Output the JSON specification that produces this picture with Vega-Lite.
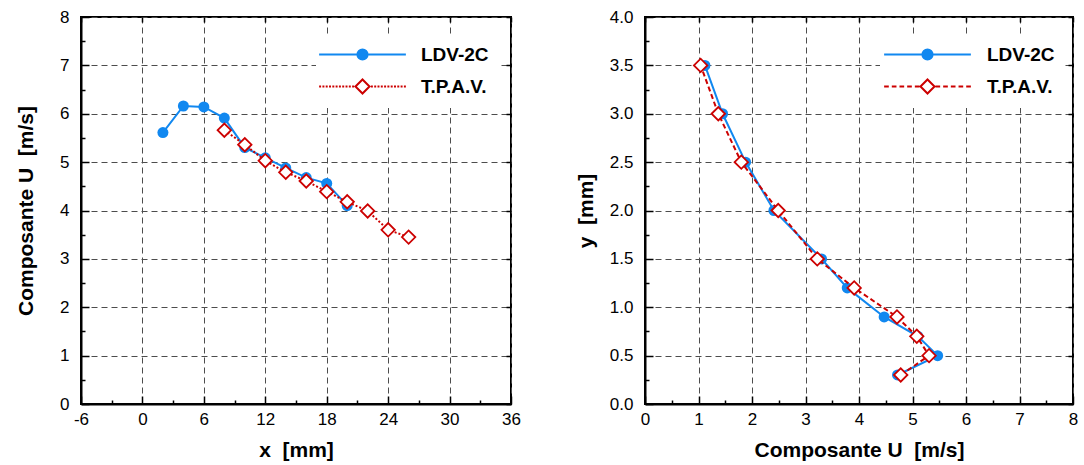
{
  "$schema": "https://vega.github.io/schema/vega-lite/v6.json",
  "background": "white",
  "padding": {"left": 14, "top": 7, "right": 3, "bottom": 3},
  "spacing": 52,
  "config": {
    "view": {"stroke": "black", "strokeWidth": 2},
    "axis": {
      "domainColor": "black", "domainWidth": 2,
      "tickColor": "black", "tickWidth": 1.5,
      "gridColor": "#4d4d4d", "gridDash": [6, 4], "gridWidth": 1,
      "labelFont": "Liberation Sans", "labelFontSize": 17, "labelColor": "black",
      "titleFont": "Liberation Sans", "titleFontSize": 21, "titleFontWeight": "bold", "titleColor": "black",
      "labelFlush": false, "labelOverlap": false
    },
    "axisX": {"labelPadding": 15, "titlePadding": 8},
    "axisY": {"labelPadding": 20},
    "legend": {"labelFont": "Liberation Sans"}
  },
  "datasets": {
    "left": [
      {"s": "LDV-2C", "x": 2, "u": 5.61},
      {"s": "LDV-2C", "x": 4, "u": 6.16},
      {"s": "LDV-2C", "x": 6, "u": 6.14},
      {"s": "LDV-2C", "x": 8, "u": 5.91},
      {"s": "LDV-2C", "x": 10, "u": 5.30},
      {"s": "LDV-2C", "x": 12, "u": 5.09},
      {"s": "LDV-2C", "x": 14, "u": 4.88},
      {"s": "LDV-2C", "x": 16, "u": 4.68},
      {"s": "LDV-2C", "x": 18, "u": 4.56},
      {"s": "LDV-2C", "x": 20, "u": 4.10},
      {"s": "T.P.A.V.", "x": 8, "u": 5.66},
      {"s": "T.P.A.V.", "x": 10, "u": 5.36},
      {"s": "T.P.A.V.", "x": 12, "u": 5.03},
      {"s": "T.P.A.V.", "x": 14, "u": 4.79},
      {"s": "T.P.A.V.", "x": 16, "u": 4.61},
      {"s": "T.P.A.V.", "x": 18, "u": 4.39},
      {"s": "T.P.A.V.", "x": 20, "u": 4.18},
      {"s": "T.P.A.V.", "x": 22, "u": 3.99},
      {"s": "T.P.A.V.", "x": 24, "u": 3.60},
      {"s": "T.P.A.V.", "x": 26, "u": 3.45}
    ],
    "right": [
      {"s": "LDV-2C", "u": 4.72, "y": 0.3},
      {"s": "LDV-2C", "u": 5.47, "y": 0.5},
      {"s": "LDV-2C", "u": 5.10, "y": 0.7},
      {"s": "LDV-2C", "u": 4.47, "y": 0.9},
      {"s": "LDV-2C", "u": 3.78, "y": 1.2},
      {"s": "LDV-2C", "u": 3.30, "y": 1.5},
      {"s": "LDV-2C", "u": 2.41, "y": 2.0},
      {"s": "LDV-2C", "u": 1.88, "y": 2.5},
      {"s": "LDV-2C", "u": 1.45, "y": 3.0},
      {"s": "LDV-2C", "u": 1.12, "y": 3.5},
      {"s": "T.P.A.V.", "u": 4.78, "y": 0.3},
      {"s": "T.P.A.V.", "u": 5.31, "y": 0.5},
      {"s": "T.P.A.V.", "u": 5.08, "y": 0.7},
      {"s": "T.P.A.V.", "u": 4.71, "y": 0.9},
      {"s": "T.P.A.V.", "u": 3.91, "y": 1.2},
      {"s": "T.P.A.V.", "u": 3.22, "y": 1.5},
      {"s": "T.P.A.V.", "u": 2.49, "y": 2.0},
      {"s": "T.P.A.V.", "u": 1.80, "y": 2.5},
      {"s": "T.P.A.V.", "u": 1.37, "y": 3.0},
      {"s": "T.P.A.V.", "u": 1.04, "y": 3.5}
    ]
  },
  "resolve": {
    "scale": {"x": "independent", "y": "independent", "shape": "independent", "fill": "independent", "stroke": "independent"},
    "legend": {"shape": "independent", "fill": "independent", "stroke": "independent"}
  },
  "hconcat": [
    {
      "width": 430, "height": 387,
      "data": {"name": "left"},
      "resolve": {"axis": {"x": "independent", "y": "independent"}},
      "layer": [
        {
          "transform": [{"filter": "datum.s === 'LDV-2C'"}],
          "mark": {"type": "line", "color": "#1188f0", "strokeWidth": 2},
          "encoding": {
            "x": {"field": "x", "type": "quantitative", "scale": {"domain": [-6, 36], "nice": false},
              "axis": {"title": "x\u00a0 [mm]", "grid": true, "values": [-6, -3, 0, 3, 6, 9, 12, 15, 18, 21, 24, 27, 30, 33, 36],
                "labelExpr": "datum.value % 6 === 0 ? '' + datum.value : ''",
                "tickSize": {"condition": {"test": "datum.value % 6 === 0", "value": -8}, "value": -4},
                "gridOpacity": {"condition": {"test": "datum.value % 6 === 0", "value": 1}, "value": 0}}},
            "y": {"field": "u", "type": "quantitative", "scale": {"domain": [0, 8], "nice": false},
              "axis": {"title": "Composante U\u00a0 [m/s]", "titlePadding": 23, "grid": true, "values": [0, 0.5, 1, 1.5, 2, 2.5, 3, 3.5, 4, 4.5, 5, 5.5, 6, 6.5, 7, 7.5, 8],
                "labelExpr": "datum.value % 1 === 0 ? '' + datum.value : ''",
                "tickSize": {"condition": {"test": "datum.value % 1 === 0", "value": -8}, "value": -4},
                "gridOpacity": {"condition": {"test": "datum.value % 1 === 0", "value": 1}, "value": 0}}}
          }
        },
        {
          "transform": [{"filter": "datum.s === 'LDV-2C'"}],
          "mark": {"type": "point", "shape": "circle", "filled": true, "color": "#1188f0", "size": 121, "opacity": 1},
          "encoding": {
            "x": {"field": "x", "type": "quantitative", "axis": {"orient": "top", "title": null, "labels": false, "domain": false, "grid": false, "tickSize": -5, "values": [-6, 0, 6, 12, 18, 24, 30, 36], "zindex": 1}},
            "y": {"field": "u", "type": "quantitative", "axis": {"orient": "right", "title": null, "labels": false, "domain": false, "grid": false, "tickSize": -5, "values": [0, 1, 2, 3, 4, 5, 6, 7, 8], "zindex": 1}}
          }
        },
        {
          "transform": [{"filter": "datum.s === 'T.P.A.V.'"}],
          "mark": {"type": "line", "color": "#cc0000", "strokeWidth": 2, "strokeDash": [2, 2]},
          "encoding": {
            "x": {"field": "x", "type": "quantitative", "axis": null},
            "y": {"field": "u", "type": "quantitative", "axis": null}
          }
        },
        {
          "transform": [{"filter": "datum.s === 'T.P.A.V.'"}],
          "mark": {"type": "point", "shape": "diamond", "filled": true, "fill": "white", "stroke": "#cc0000", "strokeWidth": 1.8, "size": 180, "opacity": 1},
          "encoding": {
            "x": {"field": "x", "type": "quantitative", "axis": null},
            "y": {"field": "u", "type": "quantitative", "axis": null}
          }
        },
        {
          "transform": [{"filter": "false"}],
          "mark": {"type": "point", "filled": true, "opacity": 1, "strokeWidth": 2},
          "encoding": {
            "x": {"field": "x", "type": "quantitative", "axis": null},
            "y": {"field": "u", "type": "quantitative", "axis": null},
            "shape": {"field": "s", "type": "nominal",
              "scale": {"domain": ["LDV-2C", "T.P.A.V."], "range": [
                "M-7.23,0H7.23M-0.85,0A0.85,0.85,0,1,1,0.85,0A0.85,0.85,0,1,1,-0.85,0Z",
                "M-7.23,0H-6.9M-6.68,0H-6.35M-6.13,0H-5.8M-5.58,0H-5.25M-5.03,0H-4.7M-4.48,0H-4.15M-3.93,0H-3.6M-3.38,0H-3.05M-2.83,0H-2.5M-2.28,0H-1.95M-1.73,0H-1.4M1.4,0H1.73M1.95,0H2.28M2.5,0H2.83M3.05,0H3.38M3.6,0H3.93M4.15,0H4.48M4.7,0H5.03M5.25,0H5.58M5.8,0H6.13M6.35,0H6.68M6.9,0H7.23M-1.17,0L0,-1.17L1.17,0L0,1.17Z"
              ]},
              "legend": {"title": null, "orient": "none", "legendX": 235, "legendY": 18, "padding": 10, "fillColor": "white",
                "symbolSize": 144, "symbolStrokeWidth": 2, "symbolOpacity": 1, "symbolOffset": 27, "labelOffset": 49,
                "labelFontSize": 19, "labelFontWeight": "bold", "labelColor": "black", "rowPadding": 10}},
            "fill": {"field": "s", "type": "nominal", "scale": {"domain": ["LDV-2C", "T.P.A.V."], "range": ["#1188f0", "white"]},
              "legend": {"title": null, "orient": "none", "legendX": 235, "legendY": 18, "padding": 10, "fillColor": "white",
                "symbolSize": 144, "symbolStrokeWidth": 2, "symbolOpacity": 1, "symbolOffset": 27, "labelOffset": 49,
                "labelFontSize": 19, "labelFontWeight": "bold", "labelColor": "black", "rowPadding": 10}},
            "stroke": {"field": "s", "type": "nominal", "scale": {"domain": ["LDV-2C", "T.P.A.V."], "range": ["#1188f0", "#cc0000"]},
              "legend": {"title": null, "orient": "none", "legendX": 235, "legendY": 18, "padding": 10, "fillColor": "white",
                "symbolSize": 144, "symbolStrokeWidth": 2, "symbolOpacity": 1, "symbolOffset": 27, "labelOffset": 49,
                "labelFontSize": 19, "labelFontWeight": "bold", "labelColor": "black", "rowPadding": 10}}
          }
        }
      ]
    },
    {
      "width": 428, "height": 387,
      "data": {"name": "right"},
      "resolve": {"axis": {"x": "independent", "y": "independent"}},
      "layer": [
        {
          "transform": [{"filter": "datum.s === 'LDV-2C'"}],
          "mark": {"type": "line", "color": "#1188f0", "strokeWidth": 2},
          "encoding": {
            "order": {"field": "y", "type": "quantitative"},
            "x": {"field": "u", "type": "quantitative", "scale": {"domain": [0, 8], "nice": false},
              "axis": {"title": "Composante U\u00a0 [m/s]", "grid": true, "values": [0, 0.5, 1, 1.5, 2, 2.5, 3, 3.5, 4, 4.5, 5, 5.5, 6, 6.5, 7, 7.5, 8],
                "labelExpr": "datum.value % 1 === 0 ? '' + datum.value : ''",
                "tickSize": {"condition": {"test": "datum.value % 1 === 0", "value": -8}, "value": -4},
                "gridOpacity": {"condition": {"test": "datum.value % 1 === 0", "value": 1}, "value": 0}}},
            "y": {"field": "y", "type": "quantitative", "scale": {"domain": [0, 4], "nice": false},
              "axis": {"title": "y\u00a0 [mm]", "titlePadding": 13, "grid": true, "values": [0, 0.25, 0.5, 0.75, 1, 1.25, 1.5, 1.75, 2, 2.25, 2.5, 2.75, 3, 3.25, 3.5, 3.75, 4],
                "labelExpr": "(datum.value * 2) % 1 === 0 ? format(datum.value, '.1f') : ''",
                "tickSize": {"condition": {"test": "(datum.value * 2) % 1 === 0", "value": -8}, "value": -4},
                "gridOpacity": {"condition": {"test": "(datum.value * 2) % 1 === 0", "value": 1}, "value": 0}}}
          }
        },
        {
          "transform": [{"filter": "datum.s === 'LDV-2C'"}],
          "mark": {"type": "point", "shape": "circle", "filled": true, "color": "#1188f0", "size": 121, "opacity": 1},
          "encoding": {
            "x": {"field": "u", "type": "quantitative", "axis": {"orient": "top", "title": null, "labels": false, "domain": false, "grid": false, "tickSize": -5, "values": [0, 1, 2, 3, 4, 5, 6, 7, 8], "zindex": 1}},
            "y": {"field": "y", "type": "quantitative", "axis": {"orient": "right", "title": null, "labels": false, "domain": false, "grid": false, "tickSize": -5, "values": [0, 0.5, 1, 1.5, 2, 2.5, 3, 3.5, 4], "zindex": 1}}
          }
        },
        {
          "transform": [{"filter": "datum.s === 'T.P.A.V.'"}],
          "mark": {"type": "line", "color": "#cc0000", "strokeWidth": 2, "strokeDash": [5, 3]},
          "encoding": {
            "order": {"field": "y", "type": "quantitative"},
            "x": {"field": "u", "type": "quantitative", "axis": null},
            "y": {"field": "y", "type": "quantitative", "axis": null}
          }
        },
        {
          "transform": [{"filter": "datum.s === 'T.P.A.V.'"}],
          "mark": {"type": "point", "shape": "diamond", "filled": true, "fill": "white", "stroke": "#cc0000", "strokeWidth": 1.8, "size": 180, "opacity": 1},
          "encoding": {
            "x": {"field": "u", "type": "quantitative", "axis": null},
            "y": {"field": "y", "type": "quantitative", "axis": null}
          }
        },
        {
          "transform": [{"filter": "false"}],
          "mark": {"type": "point", "filled": true, "opacity": 1, "strokeWidth": 2},
          "encoding": {
            "x": {"field": "u", "type": "quantitative", "axis": null},
            "y": {"field": "y", "type": "quantitative", "axis": null},
            "shape": {"field": "s", "type": "nominal",
              "scale": {"domain": ["LDV-2C", "T.P.A.V."], "range": [
                "M-7.23,0H7.23M-0.85,0A0.85,0.85,0,1,1,0.85,0A0.85,0.85,0,1,1,-0.85,0Z",
                "M-7.23,0H-6.45M-5.95,0H-5.17M-4.67,0H-3.89M-3.39,0H-2.61M-2.11,0H-1.33M1.33,0H2.11M2.61,0H3.39M3.89,0H4.67M5.17,0H5.95M6.45,0H7.23M-1.17,0L0,-1.17L1.17,0L0,1.17Z"
              ]},
              "legend": {"title": null, "orient": "none", "legendX": 235, "legendY": 18, "padding": 10, "fillColor": "white",
                "symbolSize": 144, "symbolStrokeWidth": 2, "symbolOpacity": 1, "symbolOffset": 28, "labelOffset": 50,
                "labelFontSize": 19, "labelFontWeight": "bold", "labelColor": "black", "rowPadding": 10}},
            "fill": {"field": "s", "type": "nominal", "scale": {"domain": ["LDV-2C", "T.P.A.V."], "range": ["#1188f0", "white"]},
              "legend": {"title": null, "orient": "none", "legendX": 235, "legendY": 18, "padding": 10, "fillColor": "white",
                "symbolSize": 144, "symbolStrokeWidth": 2, "symbolOpacity": 1, "symbolOffset": 28, "labelOffset": 50,
                "labelFontSize": 19, "labelFontWeight": "bold", "labelColor": "black", "rowPadding": 10}},
            "stroke": {"field": "s", "type": "nominal", "scale": {"domain": ["LDV-2C", "T.P.A.V."], "range": ["#1188f0", "#cc0000"]},
              "legend": {"title": null, "orient": "none", "legendX": 235, "legendY": 18, "padding": 10, "fillColor": "white",
                "symbolSize": 144, "symbolStrokeWidth": 2, "symbolOpacity": 1, "symbolOffset": 28, "labelOffset": 50,
                "labelFontSize": 19, "labelFontWeight": "bold", "labelColor": "black", "rowPadding": 10}}
          }
        }
      ]
    }
  ]
}
